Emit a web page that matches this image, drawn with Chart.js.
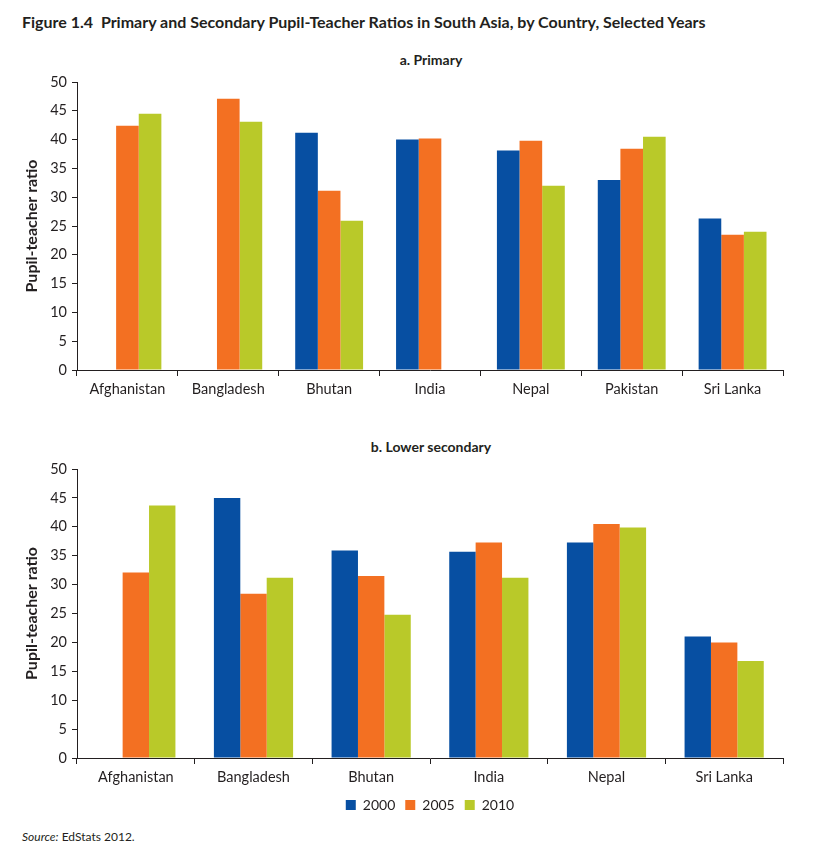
<!DOCTYPE html>
<html>
<head>
<meta charset="utf-8">
<script src="https://cdn.jsdelivr.net/npm/chart.js@4.4.0/dist/chart.umd.min.js"></script>
<style>
  body { margin:0; width:834px; height:849px; background:#fff; font-family:Lato, "Open Sans", sans-serif; color:#231f20; position:relative; overflow:hidden; }
  #title { position:absolute; left:22px; top:12px; font-weight:bold; font-size:16px; white-space:nowrap; }
  .sub { position:absolute; left:0; width:862px; text-align:center; font-weight:bold; font-size:14px; }
  #sub1 { top:51px; }
  #sub2 { top:438px; }
  #c1 { position:absolute; left:0; top:0; }
  #c2 { position:absolute; left:0; top:410px; }
  #source { position:absolute; left:22px; top:829px; font-size:12px; }
</style>
</head>
<body>
<div id="title">Figure 1.4&nbsp;&nbsp;Primary and Secondary Pupil-Teacher Ratios in South Asia, by Country, Selected Years</div>
<div class="sub" id="sub1">a. Primary</div>
<div class="sub" id="sub2">b. Lower secondary</div>
<canvas id="c1" width="834" height="410"></canvas>
<canvas id="c2" width="834" height="415"></canvas>
<div id="source"><i>Source:</i> EdStats 2012.</div>
<script>
const yearLabels = ['2000', '2005', '2010'];
const yearColors = ['#074fa2', '#f37022', '#b9c929'];

const primaryCategories = ['Afghanistan', 'Bangladesh', 'Bhutan', 'India', 'Nepal', 'Pakistan', 'Sri Lanka'];
const primary2000 = [null, null, 41.2, 40.0, 38.1, 33.0, 26.3];
const primary2005 = [42.4, 47.1, 31.1, 40.2, 39.8, 38.4, 23.5];
const primary2010 = [44.5, 43.1, 25.9, null, 32.0, 40.5, 24.0];

const secondaryCategories = ['Afghanistan', 'Bangladesh', 'Bhutan', 'India', 'Nepal', 'Sri Lanka'];
const secondary2000 = [null, 45.0, 35.9, 35.7, 37.3, 21.0];
const secondary2005 = [32.1, 28.4, 31.5, 37.3, 40.5, 20.0];
const secondary2010 = [43.7, 31.2, 24.8, 31.2, 39.9, 16.8];

const yTickValues = [0, 5, 10, 15, 20, 25, 30, 35, 40, 45, 50];

const inkColor = '#231f20';
const fontFamily = 'Lato, "Open Sans", sans-serif';

function makeDatasets(series) {
  return series.map((vals, i) => ({
    label: yearLabels[i],
    data: vals,
    backgroundColor: yearColors[i],
    borderWidth: 0,
    categoryPercentage: 0.673,
    barPercentage: 1.0
  }));
}

function makeOptions(padTop, padBottom, xHeight, showLegend) {
  return {
    responsive: false,
    animation: false,
    devicePixelRatio: 1,
    layout: { padding: { top: padTop, left: 22, right: 51, bottom: padBottom } },
    plugins: {
      legend: {
        display: showLegend,
        position: 'bottom',
        fullSize: false,
        labels: {
          boxWidth: 10, boxHeight: 10, padding: 10,
          color: inkColor,
          font: { family: fontFamily, size: 14 }
        }
      },
      tooltip: { enabled: false },
      title: { display: false }
    },
    scales: {
      x: {
        offset: true,
        grid: { display: true, drawOnChartArea: false, drawTicks: true, tickLength: 6, color: inkColor, lineWidth: 1, offset: true },
        border: { display: true, color: inkColor, width: 1 },
        ticks: { color: inkColor, padding: 5, maxRotation: 0, font: { family: fontFamily, size: 14.5 } },
        afterFit: (s) => { s.height = xHeight; }
      },
      y: {
        min: 0, max: 50,
        afterBuildTicks: (s) => { s.ticks = yTickValues.map(v => ({ value: v })); },
        grid: { display: true, drawOnChartArea: false, drawTicks: true, tickLength: 5, color: inkColor, lineWidth: 1 },
        border: { display: true, color: inkColor, width: 1 },
        ticks: { color: inkColor, padding: 5, font: { family: fontFamily, size: 14.5 } },
        title: {
          display: true,
          text: 'Pupil-teacher ratio',
          color: inkColor,
          padding: { top: 0, bottom: 0 },
          font: { family: fontFamily, size: 16, weight: 'bold' }
        },
        afterFit: (s) => { s.width = 55; }
      }
    }
  };
}

new Chart(document.getElementById('c1'), {
  type: 'bar',
  data: {
    labels: primaryCategories,
    datasets: makeDatasets([primary2000, primary2005, primary2010])
  },
  options: makeOptions(82, 0, 40, false)
});

new Chart(document.getElementById('c2'), {
  type: 'bar',
  data: {
    labels: secondaryCategories,
    datasets: makeDatasets([secondary2000, secondary2005, secondary2010])
  },
  options: makeOptions(59, 3, 30, true)
});
</script>
</body>
</html>
